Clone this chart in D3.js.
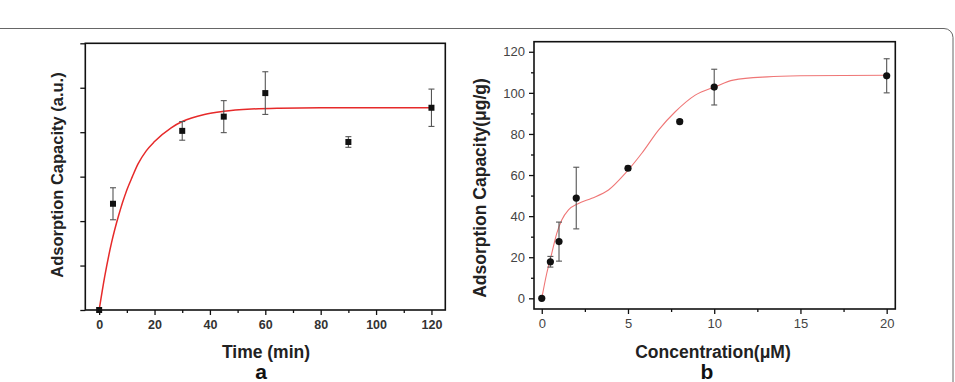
<!DOCTYPE html>
<html>
<head>
<meta charset="utf-8">
<script src="https://cdn.jsdelivr.net/npm/d3@7"></script>
<style>
  body { margin: 0; background: #fff; }
  svg { display: block; font-family: "Liberation Sans", Arial, sans-serif; }
</style>
</head>
<body>
<div id="chart"></div>
<script>
// panel a: adsorption vs time
const timeX = [0, 5, 30, 45, 60, 90, 120];
const timeY = [0, 2.39, 4.03, 4.35, 4.88, 3.78, 4.55];
const timeErr = [0, 0.36, 0.21, 0.36, 0.48, 0.12, 0.42];
const timeFitX = [0, 2, 4.5, 7, 10, 12, 14, 17, 20, 26, 30, 38, 45, 55, 65, 80, 100, 120];
const timeFitY = [0, 0.75, 1.52, 2.12, 2.7, 3.0, 3.28, 3.58, 3.79, 4.1, 4.24, 4.4, 4.47, 4.52, 4.54, 4.55, 4.55, 4.55];
const timeTicks = [0, 20, 40, 60, 80, 100, 120];

// panel b: adsorption vs concentration
const concX = [0, 0.5, 1, 2, 5, 8, 10, 20];
const concY = [0, 17.8, 27.6, 48.8, 63.3, 86, 102.8, 108.3];
const concErr = [0, 2.6, 9.5, 15, 1, 1, 8.7, 8.3];
const concFitX = [0, 0.29, 0.58, 0.87, 1.16, 1.55, 2.13, 2.9, 3.87, 4.84, 5.8, 6.77, 7.74, 8.9, 10.06, 11.1, 13.07, 15, 20];
const concFitY = [0, 12.2, 21.9, 31.6, 38.1, 43, 46.2, 48.7, 52.7, 60.8, 70.6, 81.9, 90.8, 98.9, 103, 106.2, 107.8, 108.3, 108.6];
const concTicks = [0, 5, 10, 15, 20];
const concYTicks = [0, 20, 40, 60, 80, 100, 120];

const W = 955, H = 382;
const svg = d3.select('#chart').append('svg').attr('width', W).attr('height', H);

// outer card border
svg.append('rect')
  .attr('x', -10).attr('y', 28.5).attr('width', 963).attr('height', 420)
  .attr('rx', 9)
  .attr('fill', 'none').attr('stroke', '#666').attr('stroke-width', 1);

function panel(opt) {
  const g = svg.append('g');
  const x = d3.scaleLinear().domain(opt.xDomain).range([opt.left, opt.right]);
  const y = d3.scaleLinear().domain(opt.yDomain).range([opt.bottom, opt.top]);

  // minor ticks
  g.append('g')
    .attr('transform', `translate(0,${opt.bottom})`)
    .call(d3.axisBottom(x).tickValues(opt.xMinor).tickSize(3).tickFormat(''))
    .call(s => s.select('.domain').remove())
    .call(s => s.selectAll('line').attr('stroke', '#111').attr('stroke-width', 1.3));

  const xAxis = g.append('g')
    .attr('transform', `translate(0,${opt.bottom})`)
    .call(d3.axisBottom(x).tickValues(opt.xTicks).tickSize(5).tickPadding(5));
  xAxis.select('.domain').remove();
  xAxis.selectAll('line').attr('stroke', '#111').attr('stroke-width', 1.3);
  xAxis.selectAll('text')
    .attr('font-size', opt.tickSize).attr('fill', opt.tickColor)
    .attr('font-weight', opt.tickWeight)
    .attr('font-family', '"Liberation Sans", Arial, sans-serif');

  if (opt.yMinor) {
    g.append('g')
      .attr('transform', `translate(${opt.left},0)`)
      .call(d3.axisLeft(y).tickValues(opt.yMinor).tickSize(3).tickFormat(''))
      .call(s => s.select('.domain').remove())
      .call(s => s.selectAll('line').attr('stroke', '#111').attr('stroke-width', 1.3));
  }
  const yAxis = g.append('g')
    .attr('transform', `translate(${opt.left},0)`)
    .call(d3.axisLeft(y).tickValues(opt.yTicks).tickSize(5).tickPadding(4)
      .tickFormat(opt.yLabels ? d3.format('d') : ''));
  yAxis.select('.domain').remove();
  yAxis.selectAll('line').attr('stroke', '#111').attr('stroke-width', 1.3);
  yAxis.selectAll('text')
    .attr('font-size', opt.tickSize).attr('fill', opt.tickColor)
    .attr('font-family', '"Liberation Sans", Arial, sans-serif');

  // frame
  g.append('rect')
    .attr('x', opt.left).attr('y', opt.top)
    .attr('width', opt.right - opt.left).attr('height', opt.bottom - opt.top)
    .attr('fill', 'none').attr('stroke', '#111').attr('stroke-width', 1.6);

  // fitted curve
  const pts = opt.fitX.map((d, i) => [d, opt.fitY[i]]);
  g.append('path')
    .datum(pts)
    .attr('fill', 'none')
    .attr('stroke', opt.curveColor)
    .attr('stroke-width', opt.curveWidth)
    .attr('d', d3.line().x(d => x(d[0])).y(d => y(d[1])).curve(d3.curveMonotoneX));

  const data = opt.dataX.map((d, i) => ({ x: d, y: opt.dataY[i], e: opt.err[i] }));

  // error bars
  const eb = g.selectAll('.eb').data(data.filter(d => d.e > 0)).enter().append('g')
    .attr('stroke', '#555').attr('stroke-width', 1.1);
  eb.append('line')
    .attr('x1', d => x(d.x)).attr('x2', d => x(d.x))
    .attr('y1', d => y(d.y + d.e)).attr('y2', d => y(d.y - d.e));
  eb.append('line')
    .attr('x1', d => x(d.x) - 3).attr('x2', d => x(d.x) + 3)
    .attr('y1', d => y(d.y + d.e)).attr('y2', d => y(d.y + d.e));
  eb.append('line')
    .attr('x1', d => x(d.x) - 3).attr('x2', d => x(d.x) + 3)
    .attr('y1', d => y(d.y - d.e)).attr('y2', d => y(d.y - d.e));

  // markers
  if (opt.marker === 'square') {
    g.selectAll('.dot').data(data).enter().append('rect')
      .attr('x', d => x(d.x) - 3).attr('y', d => y(d.y) - 3)
      .attr('width', 6).attr('height', 6).attr('fill', '#111');
  } else {
    g.selectAll('.dot').data(data).enter().append('circle')
      .attr('cx', d => x(d.x)).attr('cy', d => y(d.y))
      .attr('r', 3.6).attr('fill', '#111');
  }

  // axis titles
  g.append('text')
    .attr('transform', `translate(${opt.yTitleX},${opt.yTitleY}) rotate(-90)`)
    .attr('text-anchor', 'middle')
    .attr('font-size', opt.yTitleSize).attr('font-weight', 'bold').attr('fill', '#222')
    .text(opt.yTitle);
  g.append('text')
    .attr('x', opt.xTitleX).attr('y', 358)
    .attr('text-anchor', 'middle')
    .attr('font-size', opt.xTitleSize).attr('font-weight', 'bold').attr('fill', '#222')
    .text(opt.xTitle);
  g.append('text')
    .attr('x', opt.letterX).attr('y', 379)
    .attr('text-anchor', 'middle')
    .attr('font-size', '21px').attr('font-weight', 'bold').attr('fill', '#111')
    .text(opt.letter);
}

panel({
  left: 85.3, right: 445.3, top: 43.3, bottom: 310,
  xDomain: [-5, 125], yDomain: [0, 6],
  xTicks: timeTicks, xMinor: [10, 30, 50, 70, 90, 110],
  yTicks: [0, 1, 2, 3, 4, 5, 6], yLabels: false,
  tickColor: '#333', tickWeight: 'bold', tickSize: '12.5px',
  dataX: timeX, dataY: timeY, err: timeErr,
  fitX: timeFitX, fitY: timeFitY,
  curveColor: '#e62a2a', curveWidth: 1.5, marker: 'square',
  yTitle: 'Adsorption Capacity (a.u.)', yTitleX: 63, yTitleY: 175, yTitleSize: '16.5px',
  xTitle: 'Time (min)', xTitleX: 266, xTitleSize: '17.5px', letter: 'a', letterX: 261
});

panel({
  left: 534, right: 895.3, top: 41.7, bottom: 309,
  xDomain: [-0.45, 20.5], yDomain: [-5.2, 124.9],
  xTicks: concTicks, xMinor: [2.5, 7.5, 12.5, 17.5],
  yTicks: concYTicks, yMinor: [10, 30, 50, 70, 90, 110], yLabels: true,
  tickColor: '#444', tickWeight: 'normal', tickSize: '13px',
  dataX: concX, dataY: concY, err: concErr,
  fitX: concFitX, fitY: concFitY,
  curveColor: '#ef7676', curveWidth: 1.1, marker: 'circle',
  yTitle: 'Adsorption Capacity(\u03bcg/g)', yTitleX: 486, yTitleY: 188, yTitleSize: '17.5px',
  xTitle: 'Concentration(\u03bcM)', xTitleX: 713, xTitleSize: '17.5px', letter: 'b', letterX: 707
});
</script>
</body>
</html>
